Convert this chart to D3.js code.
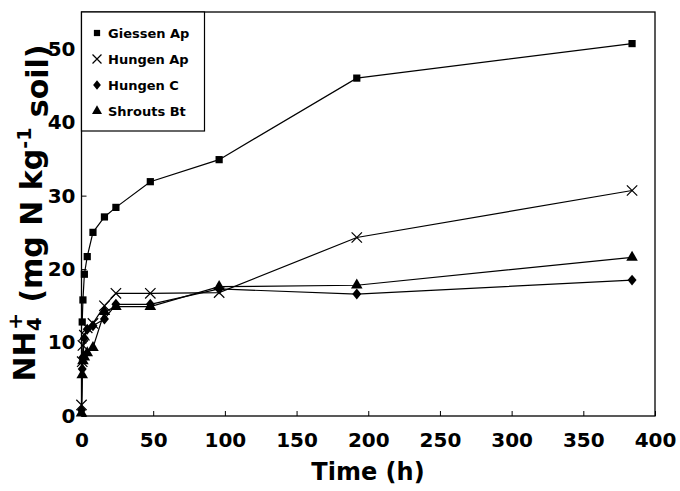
<!DOCTYPE html>
<html>
<head>
<meta charset="utf-8">
<script src="https://cdn.jsdelivr.net/npm/d3@7"></script>
<style>
  html, body { margin: 0; padding: 0; background: #fff; }
  svg { display: block; }
  text { font-family: "DejaVu Sans", sans-serif; font-weight: bold; fill: #000; }
</style>
</head>
<body>
<div id="chart"></div>
<script>
// ammonium release over time, four soils

const TIMES = [0, 0.5, 1, 2, 4, 8, 16, 24, 48, 96, 192, 384];

const GIESSEN_AP = [null, 12.8, 15.8, 19.3, 21.7, 25.0, 27.1, 28.4, 31.9, 34.9, 46.0, 50.7];
const HUNGEN_AP  = [1.5, 7.4, 9.6, 11.0, 12.0, 12.6, 15.0, 16.7, 16.7, 16.8, 24.3, 30.7];
const HUNGEN_C   = [0.8, 6.4, 8.0, 10.6, 11.8, 12.3, 13.2, 15.2, 15.2, 17.3, 16.6, 18.5];
const SHROUTS_BT = [0.4, 5.6, 7.5, 8.0, 8.6, 9.3, 14.2, 14.9, 14.9, 17.6, 17.8, 21.6];

const SERIES_NAMES = ["Giessen Ap", "Hungen Ap", "Hungen C", "Shrouts Bt"];
const SERIES_VALUES = [GIESSEN_AP, HUNGEN_AP, HUNGEN_C, SHROUTS_BT];
const SERIES_MARKERS = ["square", "x", "diamond", "triangle"];

const X_TICKS = [0, 50, 100, 150, 200, 250, 300, 350, 400];
const Y_TICKS = [0, 10, 20, 30, 40, 50];

const width = 680, height = 491;
const plot = { left: 81.5, right: 655, top: 12, bottom: 416 };

const svg = d3.select("#chart").append("svg")
  .attr("width", width)
  .attr("height", height);

svg.append("rect").attr("width", width).attr("height", height).attr("fill", "#fff");

const x = d3.scaleLinear().domain([0, 400]).range([plot.left, plot.right]);
const y = d3.scaleLinear().domain([0, 55]).range([plot.bottom, plot.top]);

// custom diamond, a bit wider than d3's
const diamondType = {
  draw(ctx, size) {
    const h = Math.sqrt(size) * 0.62, w = h * 0.82;
    ctx.moveTo(0, -h); ctx.lineTo(w, 0); ctx.lineTo(0, h); ctx.lineTo(-w, 0); ctx.closePath();
  }
};

function markerPath(kind, scale = 1) {
  if (kind === "square") return d3.symbol(d3.symbolSquare, 52 * scale)();
  if (kind === "x") return d3.symbol(d3.symbolX, 72 * scale)();
  if (kind === "diamond") return d3.symbol(diamondType, 78 * scale)();
  return d3.symbol(d3.symbolTriangle, 58 * scale)();
}

function drawMarker(g, kind, cx, cy, scale = 1) {
  const p = g.append("path")
    .attr("d", markerPath(kind, scale))
    .attr("transform", `translate(${cx},${cy})`);
  if (kind === "x") p.attr("fill", "none").attr("stroke", "#000").attr("stroke-width", 1.2);
  else p.attr("fill", "#000");
}

// axes, ticks pointing inward
const xAxis = svg.append("g")
  .attr("transform", `translate(0,${plot.bottom})`)
  .call(d3.axisBottom(x).tickValues(X_TICKS).tickSizeInner(-5).tickSizeOuter(0).tickPadding(17));
xAxis.select(".domain").remove();
xAxis.selectAll("text").attr("font-size", "20px").attr("font-family", "DejaVu Sans").attr("font-weight", "bold");
xAxis.selectAll("line").attr("stroke-width", 1);

const yAxis = svg.append("g")
  .attr("transform", `translate(${plot.left},0)`)
  .call(d3.axisLeft(y).tickValues(Y_TICKS).tickSizeInner(-5).tickSizeOuter(0).tickPadding(6));
yAxis.select(".domain").remove();
yAxis.selectAll("text").attr("font-size", "20px").attr("font-family", "DejaVu Sans").attr("font-weight", "bold");
yAxis.selectAll("line").attr("stroke-width", 1);

// frame
svg.append("rect")
  .attr("x", plot.left).attr("y", plot.top)
  .attr("width", plot.right - plot.left).attr("height", plot.bottom - plot.top)
  .attr("fill", "none").attr("stroke", "#000").attr("stroke-width", 1.3);

// lines and markers
const line = d3.line()
  .defined(d => d.v != null)
  .x(d => x(d.t))
  .y(d => y(d.v));

SERIES_VALUES.forEach((vals, i) => {
  const pts = TIMES.map((t, j) => ({ t, v: vals[j] }));
  svg.append("path")
    .datum(pts)
    .attr("d", line)
    .attr("fill", "none")
    .attr("stroke", "#000")
    .attr("stroke-width", 1.2);
  const g = svg.append("g");
  pts.filter(d => d.v != null).forEach(d => drawMarker(g, SERIES_MARKERS[i], x(d.t), y(d.v)));
});

// legend box
const legend = svg.append("g");
legend.append("rect")
  .attr("x", plot.left).attr("y", plot.top)
  .attr("width", 123).attr("height", 119)
  .attr("fill", "#fff").attr("stroke", "#000").attr("stroke-width", 1.2);

SERIES_NAMES.forEach((name, i) => {
  const ly = 33 + i * 26;
  drawMarker(legend, SERIES_MARKERS[i], 97, ly, 0.75);
  legend.append("text")
    .attr("x", 108).attr("y", ly)
    .attr("dy", "0.36em")
    .attr("font-size", "13px")
    .text(name);
});

// axis titles
svg.append("text")
  .attr("x", 368).attr("y", 480)
  .attr("text-anchor", "middle")
  .attr("font-size", "24px")
  .text("Time (h)");

const yt = svg.append("text")
  .attr("transform", "translate(35,213) rotate(-90)")
  .attr("text-anchor", "middle")
  .attr("font-size", "30px");
yt.append("tspan").text("NH");
yt.append("tspan").attr("font-size", "20px").attr("dy", "0.3em").text("4");
yt.append("tspan").attr("font-size", "20px").attr("dx", "-0.62em").attr("dy", "-0.95em").text("+");
yt.append("tspan").attr("dy", "0.65em").text(" (mg N kg");
yt.append("tspan").attr("font-size", "19px").attr("dy", "-0.55em").text("-1");
yt.append("tspan").attr("dy", "0.55em").text(" soil)");
</script>
</body>
</html>
